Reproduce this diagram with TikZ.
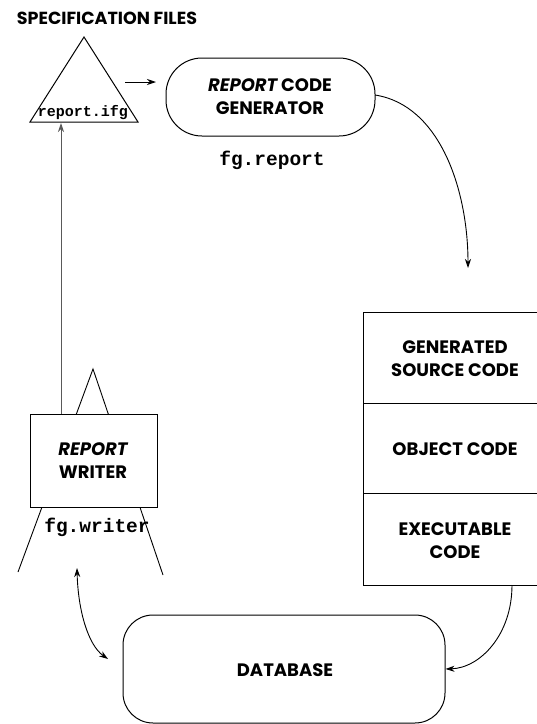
\documentclass[tikz,border=0pt]{standalone}
\usepackage{fontspec}
\setmainfont{Poppins}
\newfontfamily\codefont{Liberation Mono}
\usetikzlibrary{arrows.meta}
\tikzset{
  lbl/.style={font=\bfseries\fontsize{18}{23}\selectfont, align=center, inner sep=0pt},
  code/.style={font=\codefont\bfseries\fontsize{19.5}{20}\selectfont, inner sep=0pt},
  box/.style={draw, line width=1pt},
  arr/.style={-{Stealth[length=9pt,width=6pt]}, line width=0.9pt},
  darr/.style={{Stealth[length=9pt,width=6pt]}-{Stealth[length=9pt,width=6pt]}, line width=0.9pt},
}
\begin{document}
\begin{tikzpicture}[x=1pt,y=-1pt]
\useasboundingbox (0,0) rectangle (537,724);
% specification triangle
\coordinate (sa) at (84,37);
\coordinate (sl) at (30,122);
\coordinate (sr) at (138,122);
\draw[line width=1pt] (sa) -- (sl) -- (sr) -- cycle;
\node[lbl, font=\bfseries\fontsize{17.5}{20}\selectfont] (spec) at (107,18) {SPECIFICATION FILES};
\node[code, font=\codefont\bfseries\fontsize{15}{16}\selectfont] (ifg) at (83,113) {report.ifg};
% report code generator
\node[box, rounded corners=36pt, minimum width=209pt, minimum height=78pt] (gen) at (270.5,97) {};
\node[lbl] (gent) at (270,97) {\itshape REPORT\upshape{} CODE\\GENERATOR};
\node[code] (fgr) at (272,160) {fg.report};
\coordinate (t1) at (125,82);
\coordinate (t2) at (156,82);
\draw[arr] (t1) -- (t2);
% stack
\node[box, minimum width=184pt, minimum height=91pt, inner sep=0pt] (src) at (455,357.5) {};
\node[box, minimum width=184pt, minimum height=90pt, inner sep=0pt] (obj) at (455,448) {};
\node[box, minimum width=184pt, minimum height=92pt, inner sep=0pt] (exe) at (455,539) {};
\node[lbl] (srct) at (455,359) {GENERATED\\SOURCE CODE};
\node[lbl] (objt) at (455,449) {OBJECT CODE};
\node[lbl] (exet) at (455,541) {EXECUTABLE\\CODE};
\coordinate (g2) at (375,95);
\coordinate (s1) at (468,268);
\draw[arr] (g2) .. controls (440,105) and (468,190) .. (s1);
% database
\node[box, rounded corners=30pt, minimum width=322pt, minimum height=108pt] (db) at (284,669) {};
\node[lbl] (dbt) at (285,670) {DATABASE};
\coordinate (e1) at (512,585);
\draw[arr] (e1) .. controls (512,635) and (480,668) .. (db.east);
% report writer
\coordinate (wa) at (93,369);
\coordinate (wl) at (18,572);
\coordinate (wr) at (163,575);
\draw[line width=0.9pt] (wl) -- (wa) -- (wr);
\node[box, fill=white, minimum width=127pt, minimum height=93pt] (wr-box) at (93.5,460.5) {};
\node[lbl] (wrt) at (93,461) {\itshape REPORT\\WRITER};
\node[code] (fgw) at (97,527) {fg.writer};
\coordinate (w1) at (61,414);
\coordinate (w2) at (61,123);
\draw[arr, draw=black!65] (w1) -- (w2);
% double arrow
\coordinate (d1) at (77,568);
\coordinate (d2) at (108,659);
\draw[darr] (d1) .. controls (78,610) and (88,645) .. (d2);
\end{tikzpicture}
\end{document}
